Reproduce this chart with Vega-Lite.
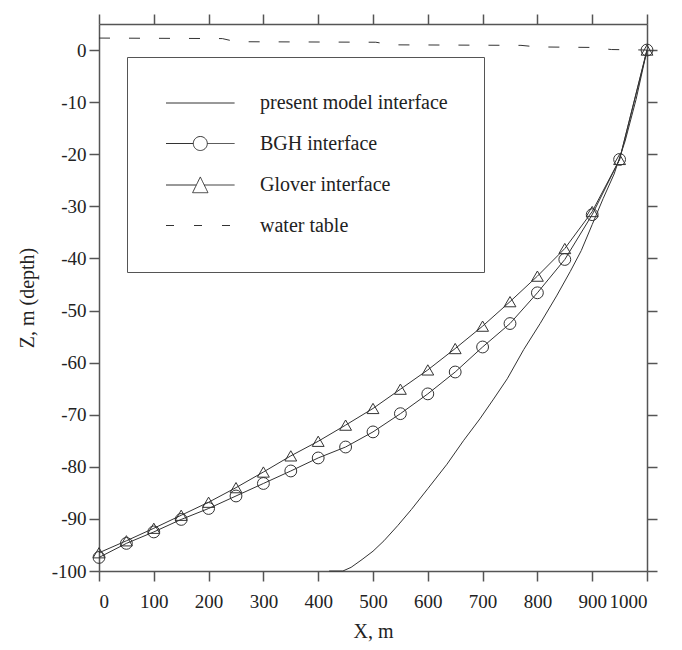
{
  "$schema": "https://vega.github.io/schema/vega-lite/v6.json",
  "width": 548,
  "height": 547,
  "autosize": {"type": "none"},
  "padding": {"left": 99, "top": 24, "right": 35, "bottom": 79},
  "background": "white",
  "config": {
    "view": {"stroke": null},
    "font": "Liberation Serif",
    "axis": {
      "grid": false,
      "domainColor": "#555",
      "domainWidth": 1.5,
      "tickColor": "#555",
      "tickWidth": 1.5,
      "tickSize": 10,
      "labelFont": "Liberation Serif",
      "labelFontSize": 19,
      "labelColor": "#222",
      "labelOverlap": false,
      "labelBound": false,
      "titleFont": "Liberation Serif",
      "titleFontSize": 20,
      "titleFontWeight": "normal",
      "titleColor": "#222"
    }
  },
  "datasets": {
    "d": [
      {"series": "present model interface", "x": 420, "y": -100},
      {"series": "present model interface", "x": 445, "y": -100},
      {"series": "present model interface", "x": 460, "y": -99.3},
      {"series": "present model interface", "x": 480, "y": -97.8},
      {"series": "present model interface", "x": 500, "y": -96.2},
      {"series": "present model interface", "x": 520, "y": -94.2},
      {"series": "present model interface", "x": 545, "y": -91.3},
      {"series": "present model interface", "x": 570, "y": -88.2},
      {"series": "present model interface", "x": 600, "y": -84.2},
      {"series": "present model interface", "x": 635, "y": -79.5},
      {"series": "present model interface", "x": 665, "y": -75},
      {"series": "present model interface", "x": 695, "y": -70.8},
      {"series": "present model interface", "x": 720, "y": -67},
      {"series": "present model interface", "x": 745, "y": -63.1},
      {"series": "present model interface", "x": 775, "y": -57.5},
      {"series": "present model interface", "x": 805, "y": -52.5},
      {"series": "present model interface", "x": 835, "y": -47.2},
      {"series": "present model interface", "x": 860, "y": -42.5},
      {"series": "present model interface", "x": 880, "y": -38.5},
      {"series": "present model interface", "x": 900, "y": -33.5},
      {"series": "present model interface", "x": 920, "y": -28.5},
      {"series": "present model interface", "x": 940, "y": -23.8},
      {"series": "present model interface", "x": 960, "y": -17.5},
      {"series": "present model interface", "x": 980, "y": -9.5},
      {"series": "present model interface", "x": 1000, "y": 0},
      {"series": "BGH interface", "x": 0, "y": -97.4},
      {"series": "BGH interface", "x": 50, "y": -94.7},
      {"series": "BGH interface", "x": 100, "y": -92.5},
      {"series": "BGH interface", "x": 150, "y": -90.1},
      {"series": "BGH interface", "x": 200, "y": -88.0},
      {"series": "BGH interface", "x": 250, "y": -85.6},
      {"series": "BGH interface", "x": 300, "y": -83.2},
      {"series": "BGH interface", "x": 350, "y": -80.8},
      {"series": "BGH interface", "x": 400, "y": -78.3},
      {"series": "BGH interface", "x": 450, "y": -76.2},
      {"series": "BGH interface", "x": 500, "y": -73.3},
      {"series": "BGH interface", "x": 550, "y": -69.8},
      {"series": "BGH interface", "x": 600, "y": -66.0},
      {"series": "BGH interface", "x": 650, "y": -61.8},
      {"series": "BGH interface", "x": 700, "y": -57.0},
      {"series": "BGH interface", "x": 750, "y": -52.5},
      {"series": "BGH interface", "x": 800, "y": -46.6},
      {"series": "BGH interface", "x": 850, "y": -40.2},
      {"series": "BGH interface", "x": 900, "y": -31.6},
      {"series": "BGH interface", "x": 950, "y": -21.0},
      {"series": "BGH interface", "x": 1000, "y": 0},
      {"series": "Glover interface", "x": 0, "y": -96.5},
      {"series": "Glover interface", "x": 50, "y": -94.2},
      {"series": "Glover interface", "x": 100, "y": -91.8},
      {"series": "Glover interface", "x": 150, "y": -89.3},
      {"series": "Glover interface", "x": 200, "y": -86.8},
      {"series": "Glover interface", "x": 250, "y": -84.0},
      {"series": "Glover interface", "x": 300, "y": -81.0},
      {"series": "Glover interface", "x": 350, "y": -77.9},
      {"series": "Glover interface", "x": 400, "y": -75.1},
      {"series": "Glover interface", "x": 450, "y": -72.0},
      {"series": "Glover interface", "x": 500, "y": -68.8},
      {"series": "Glover interface", "x": 550, "y": -65.1},
      {"series": "Glover interface", "x": 600, "y": -61.4},
      {"series": "Glover interface", "x": 650, "y": -57.3},
      {"series": "Glover interface", "x": 700, "y": -53.0},
      {"series": "Glover interface", "x": 750, "y": -48.3},
      {"series": "Glover interface", "x": 800, "y": -43.4},
      {"series": "Glover interface", "x": 850, "y": -38.1},
      {"series": "Glover interface", "x": 900, "y": -31.0},
      {"series": "Glover interface", "x": 950, "y": -21.0},
      {"series": "Glover interface", "x": 1000, "y": 0},
      {"series": "water table", "x": 0, "y": 2.3},
      {"series": "water table", "x": 225, "y": 2.2},
      {"series": "water table", "x": 250, "y": 1.6},
      {"series": "water table", "x": 505, "y": 1.5},
      {"series": "water table", "x": 535, "y": 1.0},
      {"series": "water table", "x": 770, "y": 0.9},
      {"series": "water table", "x": 800, "y": 0.6},
      {"series": "water table", "x": 900, "y": 0.5},
      {"series": "water table", "x": 935, "y": 0.1},
      {"series": "water table", "x": 1000, "y": 0}
    ]
  },
  "data": {"name": "d"},
  "layer": [
    {
      "transform": [{"filter": "datum.series != 'water table'"}],
      "mark": {"type": "line", "color": "#333", "strokeWidth": 1},
      "encoding": {
        "x": {"field": "x", "type": "quantitative", "scale": {"domain": [0, 1000], "nice": false},
          "axis": {"orient": "bottom", "title": "X, m", "values": [0,100,200,300,400,500,600,700,800,900,1000], "labelPadding": 11, "titlePadding": 10, "labelExpr": "'' + datum.value"}},
        "y": {"field": "y", "type": "quantitative", "scale": {"domain": [-100, 5], "nice": false, "zero": false},
          "axis": {"orient": "left", "title": "Z, m (depth)", "values": [-100,-90,-80,-70,-60,-50,-40,-30,-20,-10,0], "labelPadding": 3, "titlePadding": 14, "labelExpr": "'' + datum.value"}},
        "detail": {"field": "series"}
      }
    },
    {
      "transform": [{"filter": "datum.series == 'water table'"}],
      "mark": {"type": "line", "color": "#333", "strokeWidth": 1, "strokeDash": [11, 19]},
      "encoding": {
        "x": {"field": "x", "type": "quantitative", "scale": {"domain": [0, 1000], "nice": false}, "axis": null},
        "y": {"field": "y", "type": "quantitative", "scale": {"domain": [-100, 5], "nice": false, "zero": false}, "axis": null}
      }
    },
    {
      "transform": [{"filter": "datum.series == 'BGH interface'"}],
      "mark": {"type": "point", "shape": "circle", "filled": false, "color": "#333", "strokeWidth": 1, "size": 140, "opacity": 1},
      "encoding": {
        "x": {"field": "x", "type": "quantitative", "scale": {"domain": [0, 1000], "nice": false}, "axis": null},
        "y": {"field": "y", "type": "quantitative", "scale": {"domain": [-100, 5], "nice": false, "zero": false}, "axis": null}
      }
    },
    {
      "transform": [{"filter": "datum.series == 'Glover interface'"}],
      "mark": {"type": "point", "shape": "triangle-up", "filled": false, "color": "#333", "strokeWidth": 1, "size": 140, "opacity": 1},
      "encoding": {
        "x": {"field": "x", "type": "quantitative", "scale": {"domain": [0, 1000], "nice": false}, "axis": null},
        "y": {"field": "y", "type": "quantitative", "scale": {"domain": [-100, 5], "nice": false, "zero": false}, "axis": null}
      }
    },
    {
      "mark": {"type": "point", "filled": false, "color": "#333", "strokeWidth": 1, "size": 196, "opacity": 0},
      "encoding": {
        "x": {"field": "x", "type": "quantitative", "scale": {"domain": [0, 1000], "nice": false},
          "axis": {"orient": "top", "title": null, "labels": false, "values": [0,100,200,300,400,500,600,700,800,900,1000]}},
        "y": {"field": "y", "type": "quantitative", "scale": {"domain": [-100, 5], "nice": false, "zero": false},
          "axis": {"orient": "right", "title": null, "labels": false, "values": [-100,-90,-80,-70,-60,-50,-40,-30,-20,-10,0]}},
        "shape": {
          "field": "series", "type": "nominal",
          "scale": {
            "domain": ["present model interface", "BGH interface", "Glover interface", "water table"],
            "range": [
              "M-1,0H8.8",
              "M-1,0H2.9A1,1 0 1,1 4.9,0A1,1 0 1,1 2.9,0M4.9,0H8.8",
              "M-1,0H3.34M4.46,0H8.8M3.9,-1.15L5,1.1L2.8,1.1Z",
              "M-1,0H8.8"
            ]
          },
          "legend": {
            "title": null,
            "orient": "none",
            "legendX": 28,
            "legendY": 33,
            "padding": 36,
            "rowPadding": 20.5,
            "labelOffset": 77,
            "labelFont": "Liberation Serif",
            "labelFontSize": 20,
            "labelColor": "#222",
            "labelLimit": 400,
            "strokeColor": "#555",
            "symbolSize": 196,
            "symbolStrokeWidth": 1,
            "symbolStrokeColor": "#333",
            "symbolFillColor": "transparent",
            "symbolOpacity": 1,
            "encode": {
              "symbols": {"update": {"opacity": {"value": 1}}},
              "legend": {"update": {"strokeWidth": {"value": 1.5}}}
            }
          }
        },
        "strokeDash": {
          "field": "series", "type": "nominal",
          "scale": {
            "domain": ["present model interface", "BGH interface", "Glover interface", "water table"],
            "range": [[1, 0], [1, 0], [1, 0], [8, 20]]
          }
        }
      }
    }
  ],
  "resolve": {"axis": {"x": "independent", "y": "independent"}}
}
